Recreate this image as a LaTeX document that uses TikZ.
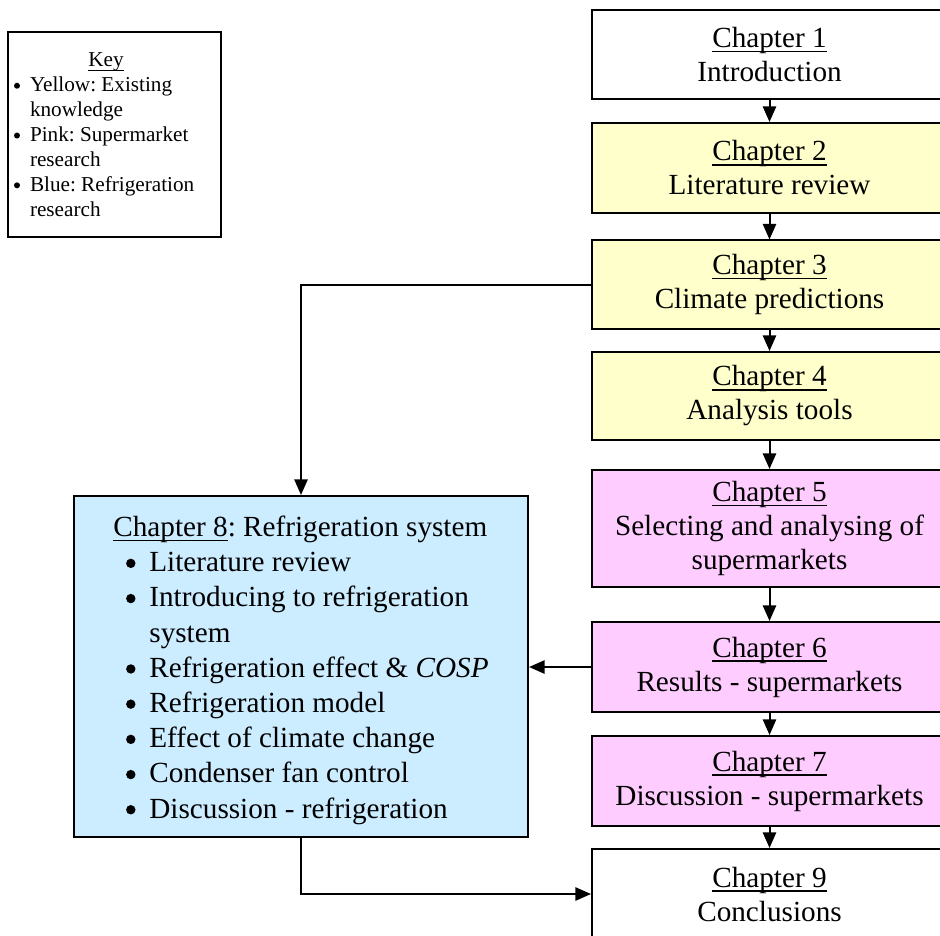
\documentclass[tikz,border=0pt]{standalone}
\usepackage{fontspec}
\setmainfont{Liberation Serif}
\usetikzlibrary{arrows.meta}
\frenchspacing
\definecolor{yel}{HTML}{FFFFCC}
\definecolor{pnk}{HTML}{FFCCFF}
\definecolor{blu}{HTML}{CCECFF}
\newcommand{\chfont}{\fontsize{14.6pt}{17pt}\selectfont}
\newcommand{\blfont}{\fontsize{14.6pt}{17.6pt}\selectfont}
\newcommand{\kyfont}{\fontsize{10.6pt}{12.45pt}\selectfont}
\newcommand{\blbul}{\makebox[18pt][l]{\hspace{6.35pt}\tikz[baseline=0pt]\fill[black] (2.35pt,4.2pt) circle[radius=2.35pt];}}
\newcommand{\kybul}{\makebox[8pt][l]{\tikz[baseline=0pt]\fill[black] (1.5pt,2.9pt) circle[radius=1.5pt];}}
\newcommand{\myul}[1]{\setbox0\hbox{#1}\rlap{\rule[-2.4pt]{\wd0}{0.7pt}}\box0}
\newcommand{\myuls}[1]{\setbox0\hbox{#1}\rlap{\rule[-2pt]{\wd0}{0.5pt}}\box0}
\begin{document}
\begin{tikzpicture}[x=0.5pt,y=-0.5pt,
  chbox/.style={draw=black,line width=1pt,rectangle,inner sep=0pt,align=center,
    font=\chfont,minimum width=177.5pt,minimum height=45pt},
  arr/.style={line width=1pt,-{Triangle[length=7.8pt,width=6.6pt]}}]
\useasboundingbox (0,0) rectangle (940,935);
\clip (0,0) rectangle (940,935);
\fill[white] (0,0) rectangle (940,935);

% key
\node[draw=black,line width=1pt,rectangle,font=\kyfont,align=left,
  inner sep=0pt,minimum width=106.5pt,minimum height=102.5pt] (key) at (114.5,134.5)
 {\makebox[100.5pt]{\myuls{Key}\hspace{8.5pt}}\\
  \kybul Yellow: Existing\\
  \hspace*{8pt}knowledge\\
  \kybul Pink: Supermarket\\
  \hspace*{8pt}research\\
  \kybul Blue: Refrigeration\\
  \hspace*{8pt}research};

% chapter column
\node[chbox,fill=white,minimum height=44.5pt] (c1) at (769.5,54.5) {\myul{Chapter 1}\\Introduction};
\node[chbox,fill=yel] (c2) at (769.5,168) {\myul{Chapter 2}\\Literature review};
\node[chbox,fill=yel,minimum height=44pt] (c3) at (769.5,284.5) {\myul{Chapter 3}\\Climate predictions};
\node[chbox,fill=yel,minimum height=44pt] (c4) at (769.5,396) {\myul{Chapter 4}\\Analysis tools};
\node[chbox,fill=pnk,minimum height=58.5pt] (c5) at (769.5,528.5) {\myul{Chapter 5}\\Selecting and analysing of\\supermarkets};
\node[chbox,fill=pnk] (c6) at (769.5,667) {\myul{Chapter 6}\\Results - supermarkets};
\node[chbox,fill=pnk] (c7) at (769.5,781) {\myul{Chapter 7}\\Discussion - supermarkets};
\node[chbox,fill=white] (c9) at (769.5,894) {\myul{Chapter 9}\\Conclusions};

% chapter 8
\node[draw=black,line width=1pt,rectangle,fill=blu,font=\blfont,align=left,
  inner sep=0pt,minimum width=227pt,minimum height=170.5pt] (c8) at (301,666.5)
 {\rule{0pt}{14pt}\makebox[187pt][l]{\myul{Chapter 8}: Refrigeration system}\\
  \blbul Literature review\\
  \blbul Introducing to refrigeration\\
  \hspace*{18pt}system\\
  \blbul Refrigeration effect \& \textit{COSP}\\
  \blbul Refrigeration model\\
  \blbul Effect of climate change\\
  \blbul Condenser fan control\\
  \blbul Discussion - refrigeration};

% connectors
\draw[arr] (c1) -- (c2);
\draw[arr] (c2) -- (c3);
\draw[arr] (c3) -- (c4);
\draw[arr] (c4) -- (c5);
\draw[arr] (c5) -- (c6);
\draw[arr] (c6) -- (c7);
\draw[arr] (c7) -- (c9);
\draw[arr] (c3.west) -| (c8.north);
\draw[arr] (c6.west) -- (c8.east |- c6.west);
\draw[arr] (c8.south) |- (c9.west);
\end{tikzpicture}
\end{document}
